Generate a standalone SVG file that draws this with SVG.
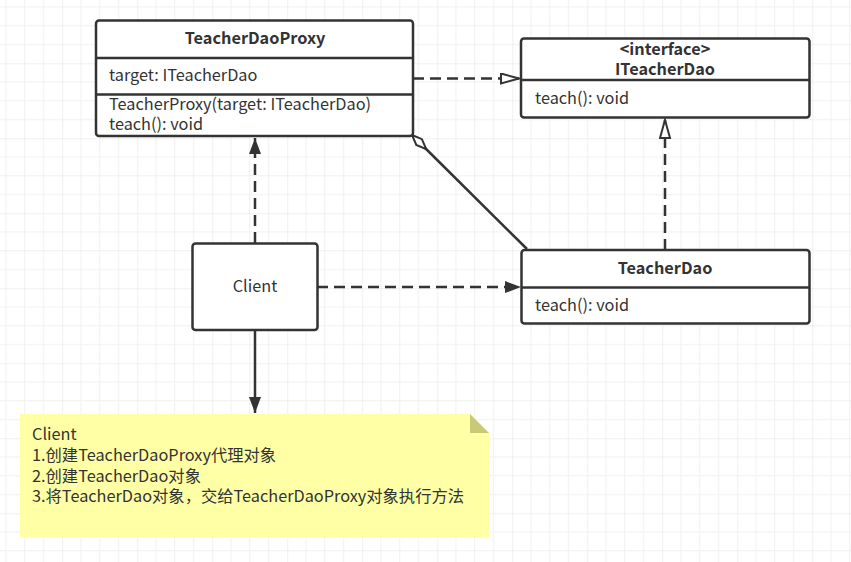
<svg xmlns="http://www.w3.org/2000/svg" width="851" height="562" viewBox="0 0 851 562">
<defs>
<pattern id="grid" patternUnits="userSpaceOnUse" x="-12.75" y="-11.75" width="75" height="75">
<path d="M18.75 0V75M37.5 0V75M56.25 0V75M0 18.75H75M0 37.5H75M0 56.25H75" stroke="#f0f0f0" stroke-width="1" fill="none"/>
<path d="M0 0V75M0 0H75" stroke="#e2e2e2" stroke-width="1" fill="none"/>
</pattern>
<marker id="hollow" markerUnits="userSpaceOnUse" markerWidth="22" markerHeight="14" refX="19" refY="6" orient="auto">
<path d="M1 1 L19 6 L1 11 Z" fill="#fff" stroke="#333" stroke-width="2"/>
</marker>
<marker id="filled" markerUnits="userSpaceOnUse" markerWidth="18" markerHeight="14" refX="16" refY="6" orient="auto">
<path d="M0 0 L16 6 L0 12 Z" fill="#333"/>
</marker>
<marker id="diamond" markerUnits="userSpaceOnUse" markerWidth="24" markerHeight="12" refX="1" refY="5" orient="auto">
<path d="M1 5 L11 1 L21 5 L11 9 Z" fill="#fff" stroke="#333" stroke-width="2"/>
</marker>
</defs>
<style>
.box{fill:#fff;stroke:#333;stroke-width:2.5}
.div{stroke:#333;stroke-width:2.5}
.t{font-family:"Noto Sans CJK SC","Noto Sans",sans-serif;font-size:16.3px;fill:#333}
.b{font-weight:bold;text-anchor:middle}
.c{text-anchor:middle}
.edge{fill:none;stroke:#333;stroke-width:2.5}
.dash{stroke-dasharray:11 6}
</style>
<rect width="851" height="562" fill="#fff"/>
<rect width="851" height="562" fill="url(#grid)"/>

<g id="connectors">
<path class="edge dash" d="M413 78.5 H519" marker-end="url(#hollow)"/>
<path class="edge dash" d="M665 250 V120" marker-end="url(#hollow)"/>
<path class="edge dash" d="M317 287 H521" marker-end="url(#filled)"/>
<path class="edge dash" d="M255 243 V138" marker-end="url(#filled)"/>
<path class="edge" d="M255 330 V413" marker-end="url(#filled)"/>
<path class="edge" d="M412 135 L527 249" marker-start="url(#diamond)"/>
</g>

<g id="TeacherDaoProxy">
<rect class="box" x="96" y="20.5" width="317" height="115.5" rx="3"/>
<line class="div" x1="96" y1="58" x2="413" y2="58"/>
<line class="div" x1="96" y1="94.5" x2="413" y2="94.5"/>
<text class="t b" x="255" y="44">TeacherDaoProxy</text>
<text class="t" x="109" y="81">target: ITeacherDao</text>
<text class="t" x="109" y="110">TeacherProxy(target: ITeacherDao)</text>
<text class="t" x="109" y="130">teach(): void</text>
</g>

<g id="ITeacherDao">
<rect class="box" x="521" y="38.5" width="288.5" height="79" rx="3"/>
<line class="div" x1="521" y1="80" x2="809.5" y2="80"/>
<text class="t b" x="665" y="55">&lt;interface&gt;</text>
<text class="t b" x="665" y="75">ITeacherDao</text>
<text class="t" x="535" y="104">teach(): void</text>
</g>

<g id="TeacherDao">
<rect class="box" x="521.5" y="250" width="288" height="73.5" rx="3"/>
<line class="div" x1="521.5" y1="287.5" x2="809.5" y2="287.5"/>
<text class="t b" x="665" y="274">TeacherDao</text>
<text class="t" x="535" y="311">teach(): void</text>
</g>

<g id="Client">
<rect class="box" x="192.5" y="243.5" width="125" height="86.5" rx="3"/>
<text class="t c" x="255" y="292">Client</text>
</g>

<g id="note">
<path d="M20 414 H470 L489 433 V537 H20 Z" fill="#ffffa5"/>
<path d="M470 414 L489 433 H470 Z" fill="#c9c97a"/>
<text class="t" x="32" y="440">Client</text>
<text class="t" x="32" y="461">1.创建TeacherDaoProxy代理对象</text>
<text class="t" x="32" y="482">2.创建TeacherDao对象</text>
<text class="t" x="32" y="502">3.将TeacherDao对象，交给TeacherDaoProxy对象执行方法</text>
</g>
</svg>
